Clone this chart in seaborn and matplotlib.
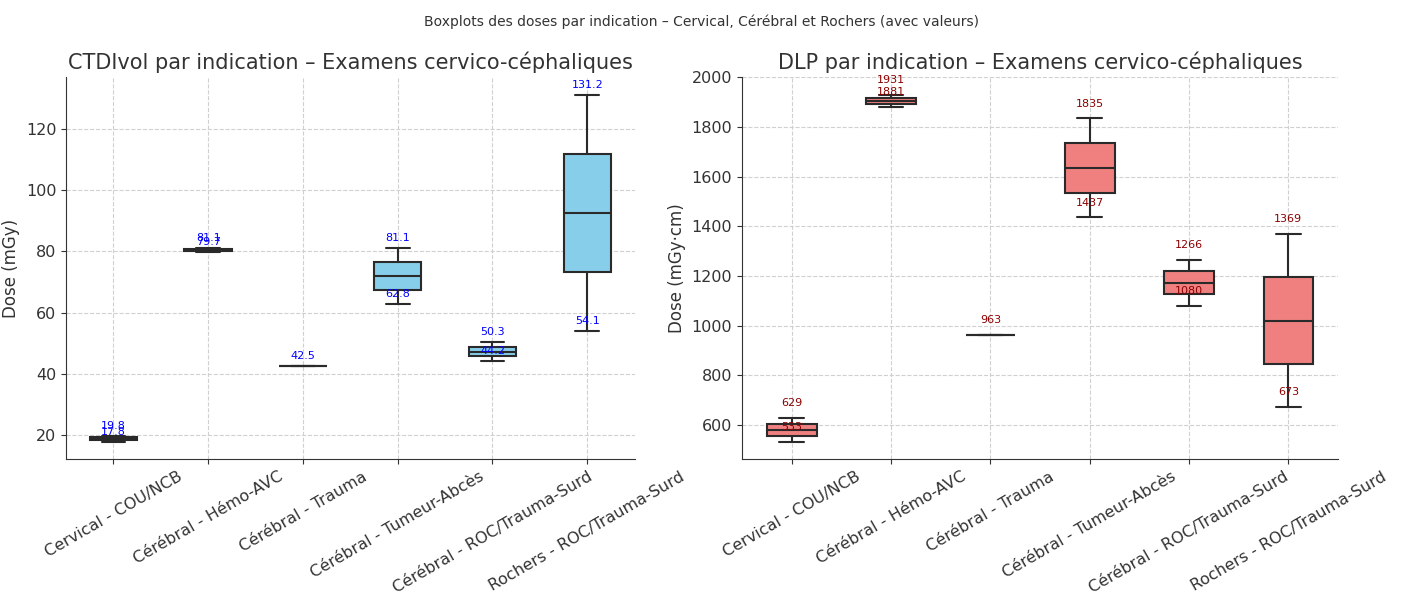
import matplotlib
matplotlib.use("Agg")
import matplotlib.pyplot as plt
import seaborn as sns
import pandas as pd

# Indications (x categories)
categories = [
    "Cervical - COU/NCB",
    "Cérébral - Hémo-AVC",
    "Cérébral - Trauma",
    "Cérébral - Tumeur-Abcès",
    "Cérébral - ROC/Trauma-Surd",
    "Rochers - ROC/Trauma-Surd",
]

# Recorded doses per indication
ctdi_values = [[17.8, 19.8], [79.7, 81.1], [42.5], [62.8, 81.1], [44.2, 50.3], [54.1, 131.2]]
dlp_values = [[533, 629], [1881, 1931], [963], [1437, 1835], [1080, 1266], [673, 1369]]

sns.set_style("ticks", {"axes.grid": True, "grid.linestyle": "--",
                        "grid.color": "#d0d0d0", "axes.edgecolor": "#333333"})
plt.rcParams["font.family"] = ["DejaVu Sans"]


def long_table(values, name):
    rows = [(cat, v) for cat, vals in zip(categories, values) for v in vals]
    return pd.DataFrame(rows, columns=["Indication", name])


fig = plt.figure(figsize=(14.04, 5.94), dpi=100)
ax1 = fig.add_axes([0.047, 0.227, 0.405, 0.643])
ax2 = fig.add_axes([0.5285, 0.227, 0.4245, 0.643])

panels = [
    (ax1, ctdi_values, "CTDIvol", "skyblue", "blue", "{:.1f}",
     "CTDIvol par indication – Examens cervico-céphaliques", "Dose (mGy)", 3.5),
    (ax2, dlp_values, "DLP", "lightcoral", "darkred", "{:.0f}",
     "DLP par indication – Examens cervico-céphaliques", "Dose (mGy·cm)", 7),
]

for ax, values, name, fill, tcol, fmt, title, ylabel, off in panels:
    df = long_table(values, name)
    sns.boxplot(data=df, x="Indication", y=name, order=categories, color=fill,
                saturation=1, linecolor="#2a2a2a", linewidth=1.5, width=0.5, ax=ax)
    for i, vals in enumerate(values):
        for v in sorted(set([max(vals), min(vals)])):
            ax.annotate(fmt.format(v), (i, v), xytext=(0, off), textcoords="offset points",
                        ha="center", va="bottom", fontsize=8, color=tcol)
    ax.set_title(title, fontsize=15, color="#333333")
    ax.set_ylabel(ylabel, fontsize=12, color="#333333")
    ax.set_xlabel("")
    ax.tick_params(axis="x", labelrotation=30, labelsize=11.5, colors="#333333")
    ax.tick_params(axis="y", labelsize=11.5, colors="#333333")
    for lbl in ax.get_xticklabels():
        lbl.set_ha("center")
    ax.grid(True, linestyle="--", color="#d0d0d0", linewidth=0.8)
    sns.despine(ax=ax)

fig.suptitle("Boxplots des doses par indication – Cervical, Cérébral et Rochers (avec valeurs)",
             fontsize=10, y=0.975, color="#333333")
fig.savefig("out.png", dpi=100)
